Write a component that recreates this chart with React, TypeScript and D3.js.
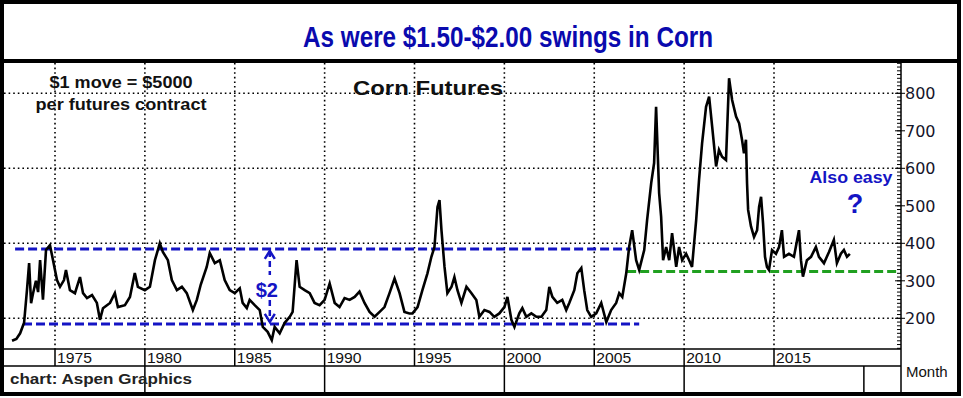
import React from "react";
import * as d3 from "d3";

const width = 963;
const height = 398;

// corn futures, cents per bushel
const years = [
  1972.61, 1972.85, 1973.06, 1973.28, 1973.44, 1973.56, 1973.67, 1973.78, 1973.94, 1974.06,
  1974.17, 1974.33, 1974.5, 1974.72, 1974.89, 1975.11, 1975.28, 1975.5, 1975.61, 1975.83,
  1976.11, 1976.39, 1976.56, 1976.78, 1977.06, 1977.33, 1977.5, 1977.67, 1978.06, 1978.33,
  1978.5, 1978.89, 1979.17, 1979.44, 1979.61, 1980.0, 1980.28, 1980.56, 1980.83, 1981.0,
  1981.28, 1981.5, 1981.78, 1982.06, 1982.33, 1982.67, 1982.89, 1983.11, 1983.44, 1983.61,
  1983.89, 1984.17, 1984.44, 1984.72, 1985.0, 1985.28, 1985.44, 1985.67, 1985.83, 1986.11,
  1986.39, 1986.56, 1986.83, 1987.06, 1987.22, 1987.5, 1987.78, 1988.06, 1988.22, 1988.44,
  1988.61, 1988.89, 1989.17, 1989.44, 1989.72, 1990.0, 1990.28, 1990.56, 1990.83, 1991.11,
  1991.39, 1991.67, 1991.94, 1992.22, 1992.5, 1992.78, 1993.06, 1993.33, 1993.61, 1993.89,
  1994.17, 1994.44, 1994.72, 1994.89, 1995.17, 1995.44, 1995.72, 1995.94, 1996.11, 1996.28,
  1996.39, 1996.5, 1996.67, 1996.83, 1997.06, 1997.22, 1997.39, 1997.61, 1997.89, 1998.17,
  1998.44, 1998.61, 1998.89, 1999.17, 1999.44, 1999.72, 2000.0, 2000.17, 2000.39, 2000.56,
  2000.83, 2001.0, 2001.22, 2001.5, 2001.78, 2002.06, 2002.33, 2002.5, 2002.67, 2002.94,
  2003.22, 2003.44, 2003.61, 2003.89, 2004.06, 2004.28, 2004.44, 2004.61, 2004.83, 2005.11,
  2005.39, 2005.67, 2005.94, 2006.22, 2006.39, 2006.56, 2006.78, 2006.94, 2007.11, 2007.33,
  2007.5, 2007.78, 2007.94, 2008.17, 2008.33, 2008.44, 2008.61, 2008.72, 2008.83, 2009.0,
  2009.17, 2009.33, 2009.56, 2009.72, 2009.89, 2010.11, 2010.28, 2010.44, 2010.67, 2010.83,
  2011.0, 2011.22, 2011.39, 2011.56, 2011.78, 2011.94, 2012.11, 2012.33, 2012.5, 2012.67,
  2012.89, 2013.06, 2013.22, 2013.33, 2013.44, 2013.5, 2013.56, 2013.72, 2013.89, 2014.06,
  2014.17, 2014.28, 2014.39, 2014.5, 2014.61, 2014.72, 2014.89, 2015.11, 2015.28, 2015.44,
  2015.56, 2015.83, 2016.11, 2016.39, 2016.5, 2016.61, 2016.83, 2017.06, 2017.33, 2017.5,
  2017.78, 2018.06, 2018.33, 2018.5, 2018.72, 2018.89, 2019.06, 2019.22,
];
const prices = [
  140, 145, 160, 188, 275, 347, 240, 267, 300, 270,
  355, 250, 382, 395, 355, 302, 284, 302, 329, 275,
  267, 310, 267, 254, 262, 241, 196, 227, 241, 267,
  230, 235, 257, 321, 284, 275, 284, 355, 400, 377,
  355, 302, 275, 284, 267, 222, 249, 290, 337, 374,
  347, 355, 302, 275, 267, 280, 241, 227, 249, 235,
  222, 177, 164, 142, 177, 160, 188, 204, 217, 355,
  284, 275, 267, 241, 235, 249, 293, 241, 230, 254,
  249, 257, 271, 241, 217, 204, 217, 230, 267, 306,
  267, 217, 213, 213, 230, 275, 320, 364, 390, 497,
  515, 435, 337, 267, 284, 310, 275, 241, 284, 267,
  249, 204, 222, 217, 204, 213, 230, 257, 196, 177,
  213, 227, 204, 213, 204, 204, 222, 284, 257, 241,
  249, 222, 241, 275, 320, 334, 275, 222, 204, 213,
  241, 190, 222, 241, 267, 257, 320, 390, 435, 355,
  329, 382, 462, 561, 614, 764, 534, 471, 355, 390,
  355, 427, 337, 390, 355, 372, 355, 337, 462, 569,
  667, 764, 791, 711, 605, 649, 631, 622, 840, 782,
  738, 720, 676, 640, 676, 561, 489, 445, 417, 435,
  497, 524, 454, 364, 337, 329, 382, 372, 390, 435,
  364, 372, 364, 435, 355, 311, 355, 364, 390, 364,
  347, 377, 409, 347, 372, 382, 364, 372,
];

const gridYears = [1975, 1980, 1985, 1990, 1995, 2000, 2005, 2010, 2015];
const decadeYears = [1980, 1990, 2000, 2010, 2020];
const priceTicks = [200, 300, 400, 500, 600, 700, 800];
const gridPrices = [200, 400, 600, 800];

// trading range and support levels
const rangeHigh = 385;
const rangeLow = 185;
const rangeHighSpan = [1972.78, 2007.06];
const rangeLowSpan = [1973.22, 2007.5];
const supportLevel = 325;
const supportStart = 2006.83;
const swingYear = 1986.95;

const plotLeft = 4;
const plotRight = 901;
const plotTop = 63;
const axisBottom = 349;
const labelBottom = 366;
const frameBottom = 392;

const blue = "#1414c4";
const green = "#20a020";

export default function App() {
  const xScale = d3.scaleLinear().domain([1975, 2015]).range([55, 774]);
  const yScale = d3.scaleLinear().domain([200, 800]).range([318.3, 93.3]);

  const line = d3
    .line<number>()
    .x((d, i) => xScale(years[i]))
    .y((d) => yScale(d));

  const minorTicks = d3.range(120, 890, 10);

  const sx = xScale(swingYear);
  const topY = yScale(rangeHigh);
  const botY = yScale(rangeLow);

  return (
    <svg
      width={width}
      height={height}
      style={{ position: "absolute", left: 0, top: 0, background: "#fff" }}
      fontFamily="'Liberation Sans', Arial, sans-serif"
    >
      <defs>
        <clipPath id="plot">
          <rect x={plotLeft} y={plotTop} width={plotRight - plotLeft} height={axisBottom - plotTop} />
        </clipPath>
      </defs>

      {/* title */}
      <text
        x={508}
        y={47}
        textAnchor="middle"
        fontSize={30}
        fontWeight="bold"
        fill="#0a0aae"
        fontFamily="'Liberation Sans Narrow', 'Arial Narrow', 'Liberation Sans', Arial, sans-serif"
        textLength={410}
        lengthAdjust="spacingAndGlyphs"
      >
        As were $1.50-$2.00 swings in Corn
      </text>

      {/* gridlines */}
      <g stroke="#000" strokeWidth={1.6} strokeDasharray="1.6 3" fill="none">
        {gridPrices.map((p) => (
          <line key={p} x1={plotLeft} x2={plotRight} y1={yScale(p)} y2={yScale(p)} />
        ))}
        {gridYears.map((y) => (
          <line key={y} x1={xScale(y)} x2={xScale(y)} y1={plotTop} y2={axisBottom} />
        ))}
      </g>

      {/* annotations */}
      <text x={121} y={88} textAnchor="middle" fontSize={16} fontWeight="bold" fill="#111" textLength={143} lengthAdjust="spacingAndGlyphs">
        $1 move = $5000
      </text>
      <text x={121} y={110} textAnchor="middle" fontSize={16} fontWeight="bold" fill="#111" textLength={171} lengthAdjust="spacingAndGlyphs">
        per futures contract
      </text>
      <text x={428} y={95} textAnchor="middle" fontSize={21} fontWeight="bold" fill="#111" textLength={150} lengthAdjust="spacingAndGlyphs">
        Corn Futures
      </text>
      <text x={851} y={183} textAnchor="middle" fontSize={17} fontWeight="bold" fill={blue} textLength={83} lengthAdjust="spacingAndGlyphs">
        Also easy
      </text>
      <text x={855} y={213} textAnchor="middle" fontSize={27} fontWeight="bold" fill={blue}>
        ?
      </text>

      {/* range lines */}
      <g strokeWidth={3} strokeDasharray="9 4" fill="none">
        <line x1={xScale(rangeHighSpan[0])} x2={xScale(rangeHighSpan[1])} y1={topY} y2={topY} stroke={blue} />
        <line x1={xScale(rangeLowSpan[0])} x2={xScale(rangeLowSpan[1])} y1={botY} y2={botY} stroke={blue} />
        <line x1={xScale(supportStart)} x2={plotRight} y1={yScale(supportLevel)} y2={yScale(supportLevel)} stroke={green} />
      </g>

      {/* price series */}
      <g clipPath="url(#plot)">
        <path d={line(prices) ?? ""} fill="none" stroke="#000" strokeWidth={2.6} strokeLinejoin="miter" />
      </g>

      {/* $2 swing arrow */}
      <g stroke={blue} strokeWidth={2.5} fill="none">
        <line x1={sx} x2={sx} y1={topY + 2} y2={topY + 26} strokeDasharray="6 4" />
        <line x1={sx} x2={sx} y1={botY - 24} y2={botY - 2} strokeDasharray="6 4" />
        <path d={`M${sx - 5},${topY + 10}L${sx},${topY + 2}L${sx + 5},${topY + 10}`} />
        <path d={`M${sx - 5},${botY - 10}L${sx},${botY - 2}L${sx + 5},${botY - 10}`} />
      </g>
      <text x={sx - 3} y={297} textAnchor="middle" fontSize={20} fontWeight="bold" fill={blue}>
        $2
      </text>

      {/* right axis */}
      <line x1={plotRight} x2={plotRight} y1={plotTop} y2={frameBottom} stroke="#000" strokeWidth={1.5} />
      <g stroke="#000" strokeWidth={1}>
        {minorTicks.map((t) => (
          <line key={t} x1={plotRight - 4} x2={plotRight} y1={yScale(t)} y2={yScale(t)} />
        ))}
        {priceTicks.map((t) => (
          <line key={t} x1={plotRight - 6} x2={plotRight + 4} y1={yScale(t)} y2={yScale(t)} />
        ))}
      </g>
      {priceTicks.map((t) => (
        <text key={t} x={905} y={yScale(t) + 6} fontSize={16} fill="#15152a" fontFamily="'DejaVu Sans', Verdana, sans-serif">
          {t}
        </text>
      ))}

      {/* bottom axis rows */}
      <g stroke="#000" strokeWidth={1.5}>
        <line x1={plotLeft} x2={plotRight} y1={axisBottom} y2={axisBottom} />
        <line x1={plotLeft} x2={plotRight} y1={labelBottom} y2={labelBottom} />
        {gridYears.map((y) => (
          <line key={y} x1={xScale(y)} x2={xScale(y)} y1={axisBottom} y2={labelBottom} />
        ))}
        {decadeYears.map((y) => (
          <line key={y} x1={xScale(y)} x2={xScale(y)} y1={labelBottom} y2={frameBottom} />
        ))}
      </g>
      {gridYears.map((y) => (
        <text key={y} x={xScale(y) + 2} y={363} fontSize={15} fill="#111" textLength={35} lengthAdjust="spacingAndGlyphs">
          {y}
        </text>
      ))}
      <text x={10} y={384} fontSize={15} fontWeight="bold" fill="#222" textLength={182} lengthAdjust="spacingAndGlyphs">
        chart: Aspen Graphics
      </text>
      <text x={906} y={377} fontSize={15} fill="#111">
        Month
      </text>

      {/* frame */}
      <g fill="none" stroke="#000">
        <rect x={2} y={2} width={957} height={frameBottom} strokeWidth={4} />
        <line x1={2} x2={959} y1={61} y2={61} strokeWidth={4} />
      </g>
    </svg>
  );
}
